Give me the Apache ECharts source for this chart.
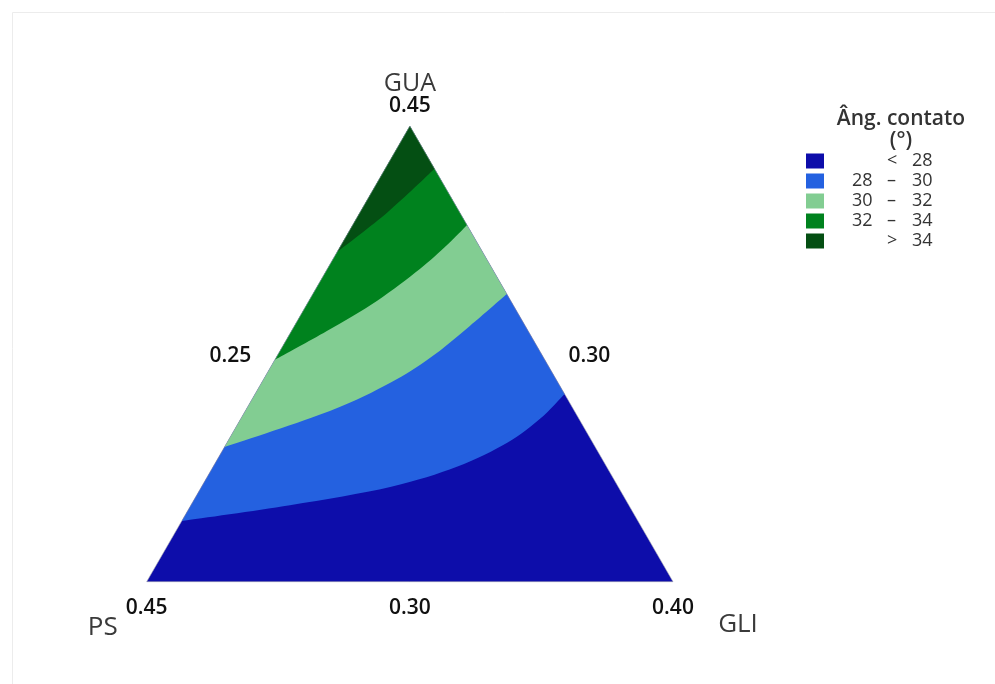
<!DOCTYPE html>
<html>
<head>
<meta charset="utf-8">
<title>Âng. contato – GUA / PS / GLI</title>
<script src="https://cdn.jsdelivr.net/npm/echarts@6/dist/echarts.min.js"></script>
<style>
  html, body { margin: 0; padding: 0; background: #ffffff; }
  #chart { width: 995px; height: 684px; }
</style>
</head>
<body>
<div id="chart"></div>
<script>
// Mixture components and their ranges (GUA + PS + GLI = 1)
const components = ['GUA', 'PS', 'GLI'];
const guaRange = [0.30, 0.45];
const psRange = [0.30, 0.45];
const gliRange = [0.25, 0.40];

// Tick labels: vertices (top, left, right) and edge midpoints (left, right, bottom)
const vertexTicks = ['0.45', '0.45', '0.40'];
const edgeTicks = ['0.25', '0.30', '0.30'];

// Contour bands of the response (contact angle, degrees)
const bandLow = [null, 28, 30, 32, 34];
const bandHigh = [28, 30, 32, 34, null];
const bandColors = ['#0D0DAA', '#2461E0', '#82CD92', '#00821E', '#044F13'];

// Contour lines as [GUA, GLI] pairs, from the GUA–PS edge to the GUA–GLI edge
const contour28 = [[0.3200, 0.2500], [0.3252, 0.2782], [0.3312, 0.3038], [0.3378, 0.3195], [0.3457, 0.3299], [0.3536, 0.3353], [0.3618, 0.3382]];
const contour30 = [[0.3443, 0.2500], [0.3562, 0.2741], [0.3654, 0.2866], [0.3736, 0.2939], [0.3842, 0.3000], [0.3947, 0.3053]];
const contour32 = [[0.3730, 0.2500], [0.3825, 0.2601], [0.3924, 0.2694], [0.4029, 0.2764], [0.4108, 0.2802], [0.4174, 0.2826]];
const contour34 = [[0.4085, 0.2500], [0.4217, 0.2579], [0.4359, 0.2641]];
const contours = [null, contour28, contour30, contour32, contour34];

const SQ3 = Math.sqrt(3) / 2;
const FONT = '"Open Sans", "Noto Sans", sans-serif';

// Real proportions -> planar coordinates of the simplex (GUA at top, PS left, GLI right)
function toXY(gua, gli) {
  const u = (gua - guaRange[0]) / (guaRange[1] - guaRange[0]);
  const v = (gli - gliRange[0]) / (gliRange[1] - gliRange[0]);
  return [v + u / 2, u * SQ3];
}
const TOP = [0.5, SQ3], LEFT = [0, 0], RIGHT = [1, 0];

// Smooth path through pixel points (Catmull-Rom as cubic Béziers)
function curvePath(pts) {
  let d = 'M' + pts[0][0] + ',' + pts[0][1];
  for (let i = 0; i < pts.length - 1; i++) {
    const p0 = pts[Math.max(i - 1, 0)], p1 = pts[i], p2 = pts[i + 1], p3 = pts[Math.min(i + 2, pts.length - 1)];
    const c1 = [p1[0] + (p2[0] - p0[0]) / 6, p1[1] + (p2[1] - p0[1]) / 6];
    const c2 = [p2[0] - (p3[0] - p1[0]) / 6, p2[1] - (p3[1] - p1[1]) / 6];
    d += 'C' + c1[0] + ',' + c1[1] + ' ' + c2[0] + ',' + c2[1] + ' ' + p2[0] + ',' + p2[1];
  }
  return d;
}

function bandName(i) {
  if (bandLow[i] === null) return '< ' + bandHigh[i];
  if (bandHigh[i] === null) return '> ' + bandLow[i];
  return bandLow[i] + ' – ' + bandHigh[i];
}

// Each band is painted as the region on the GUA side of its lower contour
const bandSeries = bandColors.map(function (color, i) {
  return {
    type: 'custom',
    name: bandName(i),
    coordinateSystem: 'cartesian2d',
    itemStyle: { color: color },
    silent: true,
    data: [0],
    renderItem: function (params, api) {
      const top = api.coord(TOP), left = api.coord(LEFT), right = api.coord(RIGHT);
      let d;
      if (!contours[i]) {
        d = 'M' + left[0] + ',' + left[1] + 'L' + right[0] + ',' + right[1] + 'L' + top[0] + ',' + top[1] + 'Z';
      } else {
        const pts = contours[i].map(function (p) { return api.coord(toXY(p[0], p[1])); });
        d = curvePath(pts) + 'L' + top[0] + ',' + top[1] + 'Z';
      }
      return { type: 'path', shape: { pathData: d }, style: { fill: color, stroke: null } };
    }
  };
});

// Triangle outline
const outlineSeries = {
  type: 'custom',
  coordinateSystem: 'cartesian2d',
  silent: true,
  data: [0],
  renderItem: function (params, api) {
    const pts = [api.coord(LEFT), api.coord(RIGHT), api.coord(TOP)];
    return { type: 'polygon', shape: { points: pts }, style: { fill: null, stroke: 'rgba(160,160,170,0.7)', lineWidth: 0.8 } };
  }
};

// Vertex names and tick labels, anchored to the simplex points
const NAME = { size: 25, color: '#3a3a3a', weight: 'normal' };
const NAME_B = { size: 26, color: '#3a3a3a', weight: 'normal' };
const TICK = { size: 21, color: '#111111', weight: 600 };
const labelItems = [
  { at: TOP, text: components[0], dx: 0, dy: -42, s: NAME, align: 'center' },
  { at: TOP, text: vertexTicks[0], dx: 0, dy: -20, s: TICK, align: 'center' },
  { at: LEFT, text: components[1], dx: -44, dy: 46, s: NAME_B, align: 'center' },
  { at: LEFT, text: vertexTicks[1], dx: 0, dy: 26, s: TICK, align: 'center' },
  { at: RIGHT, text: components[2], dx: 65, dy: 43, s: NAME_B, align: 'center' },
  { at: RIGHT, text: vertexTicks[2], dx: 0, dy: 26, s: TICK, align: 'center' },
  { at: [0.25, SQ3 / 2], text: edgeTicks[0], dx: -27, dy: 2, s: TICK, align: 'right' },
  { at: [0.75, SQ3 / 2], text: edgeTicks[1], dx: 27, dy: 2, s: TICK, align: 'left' },
  { at: [0.5, 0], text: edgeTicks[2], dx: 0, dy: 26, s: TICK, align: 'center' }
];
const labelSeries = {
  type: 'custom',
  coordinateSystem: 'cartesian2d',
  silent: true,
  data: labelItems.map(function (_, k) { return k; }),
  renderItem: function (params, api) {
    const it = labelItems[params.dataIndex];
    const p = api.coord(it.at);
    return {
      type: 'text',
      x: p[0] + it.dx,
      y: p[1] + it.dy,
      style: {
        text: it.text, fill: it.s.color, fontSize: it.s.size, fontFamily: FONT,
        fontWeight: it.s.weight, align: it.align, verticalAlign: 'middle'
      }
    };
  }
};

// Legend row text: fixed-width columns "low – high"
const LEG = { fontFamily: FONT, fontSize: 18, color: '#333', lineHeight: 15 };
function legCell(w) { return Object.assign({ width: w }, LEG); }

const chart = echarts.init(document.getElementById('chart'), null, { renderer: 'canvas' });
chart.setOption({
  backgroundColor: '#ffffff',
  animation: false,
  grid: { left: 146.7, top: 126, width: 526.3, height: 455.7 },
  xAxis: { type: 'value', min: 0, max: 1, show: false },
  yAxis: { type: 'value', min: 0, max: SQ3, show: false },
  legend: {
    orient: 'vertical',
    left: 806,
    top: 152,
    padding: 0,
    icon: 'rect',
    itemWidth: 18,
    itemHeight: 15,
    itemGap: 2,
    selectedMode: false,
    data: bandColors.map(function (_, i) { return bandName(i); }),
    formatter: function (name) {
      const i = bandColors.findIndex(function (_, k) { return bandName(k) === name; });
      let lo = bandLow[i], mid = '–', hi = bandHigh[i];
      if (lo === null) { lo = ' '; mid = '<'; }
      if (hi === null) { hi = bandLow[i]; lo = ' '; mid = '>'; }
      return '{s| }{a|' + lo + '}{t| }{b|' + mid + '}{u| }{c|' + hi + '}';
    },
    textStyle: Object.assign({}, LEG, {
      rich: { s: legCell(23), a: legCell(22), t: legCell(13), b: legCell(11), u: legCell(14), c: legCell(22) }
    })
  },
  graphic: [
    { type: 'rect', left: 10, top: 10, shape: { width: 1000, height: 700 }, style: { fill: null, stroke: '#ececec', lineWidth: 1 }, silent: true },
    { type: 'text', x: 901, y: 119, style: { text: 'Âng. contato', fill: '#333', fontSize: 21, fontFamily: FONT, fontWeight: 600, align: 'center', verticalAlign: 'middle' } },
    { type: 'text', x: 901, y: 141, style: { text: '(°)', fill: '#333', fontSize: 21, fontFamily: FONT, fontWeight: 600, align: 'center', verticalAlign: 'middle' } }
  ],
  series: bandSeries.concat([outlineSeries, labelSeries])
});
</script>
</body>
</html>
